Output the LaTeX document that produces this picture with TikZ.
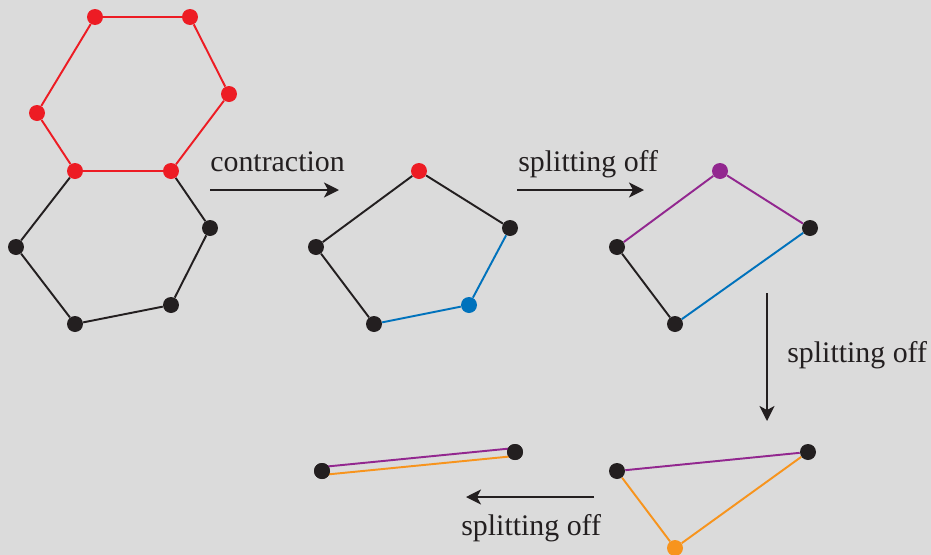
\documentclass[tikz,border=0pt]{standalone}
\usepackage{fontspec}
\setmainfont{Liberation Serif}
\usetikzlibrary{arrows.meta}
\definecolor{bgrey}{HTML}{DBDBDB}
\definecolor{vblack}{HTML}{231F20}
\definecolor{vred}{HTML}{ED1C24}
\definecolor{vblue}{HTML}{0072BC}
\definecolor{vpurple}{HTML}{92278F}
\definecolor{vorange}{HTML}{F7941D}
\tikzset{
  vtx/.style={circle, fill=vblack, inner sep=0pt, minimum size=0.32cm},
  edge/.style={line width=1.1pt, draw=vblack},
  move/.style={line width=1.1pt, draw=vblack, -{Stealth[length=0.3cm,width=0.3cm,inset=0.08cm]}},
  lbl/.style={anchor=base west, inner sep=0pt, font=\fontsize{17}{20}\selectfont, text=vblack}
}
\begin{document}
\begin{tikzpicture}[x=0.02cm,y=-0.02cm]
\fill[bgrey] (0,0) rectangle (931,555);
\useasboundingbox (0,0) rectangle (931,555);
% two hexagons
\node[vtx, fill=vred] (h1) at (95,17) {};
\node[vtx, fill=vred] (h2) at (190,17) {};
\node[vtx, fill=vred] (h3) at (229,94) {};
\node[vtx, fill=vred] (h4) at (37,113) {};
\node[vtx, fill=vred] (h5) at (75,171) {};
\node[vtx, fill=vred] (h6) at (171,171) {};
\node[vtx] (h7) at (16,247) {};
\node[vtx] (h8) at (210,228) {};
\node[vtx] (h9) at (171,305) {};
\node[vtx] (h10) at (75,324) {};
\draw[edge, draw=vred] (h1) -- (h2);
\draw[edge, draw=vred] (h2) -- (h3);
\draw[edge, draw=vred] (h3) -- (h6);
\draw[edge, draw=vred] (h6) -- (h5);
\draw[edge, draw=vred] (h5) -- (h4);
\draw[edge, draw=vred] (h4) -- (h1);
\draw[edge] (h5) -- (h7);
\draw[edge] (h7) -- (h10);
\draw[edge] (h10) -- (h9);
\draw[edge] (h9) -- (h8);
\draw[edge] (h8) -- (h6);
% pentagon
\node[vtx, fill=vred] (p1) at (419,171) {};
\node[vtx] (p2) at (316,247) {};
\node[vtx] (p3) at (510,228) {};
\node[vtx] (p4) at (374,324) {};
\node[vtx, fill=vblue] (p5) at (469,305) {};
\draw[edge] (p1) -- (p2);
\draw[edge] (p1) -- (p3);
\draw[edge] (p2) -- (p4);
\draw[edge, draw=vblue] (p4) -- (p5);
\draw[edge, draw=vblue] (p5) -- (p3);
% quadrilateral
\node[vtx, fill=vpurple] (q1) at (720,171) {};
\node[vtx] (q2) at (617,247) {};
\node[vtx] (q3) at (810,228) {};
\node[vtx] (q4) at (675,324) {};
\draw[edge, draw=vpurple] (q2) -- (q1);
\draw[edge, draw=vpurple] (q1) -- (q3);
\draw[edge] (q2) -- (q4);
\draw[edge, draw=vblue] (q4) -- (q3);
% triangle
\node[vtx] (t1) at (617,471) {};
\node[vtx] (t2) at (808,452) {};
\node[vtx, fill=vorange] (t3) at (675,548) {};
\draw[edge, draw=vpurple] (t1) -- (t2);
\draw[edge, draw=vorange] (t1) -- (t3);
\draw[edge, draw=vorange] (t3) -- (t2);
% two vertices, double edge
\node[vtx] (s1) at (322,471) {};
\node[vtx] (s2) at (515,452) {};
\draw[edge, draw=vpurple] ([yshift=0.08cm]s1.center) -- ([yshift=0.08cm]s2.center);
\draw[edge, draw=vorange] ([yshift=-0.08cm]s1.center) -- ([yshift=-0.08cm]s2.center);
\node[vtx] at (s1) {};
\node[vtx] at (s2) {};
% moves
\coordinate (c1) at (210,190);
\coordinate (c2) at (339,190);
\coordinate (c3) at (517,190);
\coordinate (c4) at (644,190);
\coordinate (c5) at (767,293);
\coordinate (c6) at (767,421);
\coordinate (c7) at (594,497);
\coordinate (c8) at (466,497);
\draw[move] (c1) -- (c2);
\draw[move] (c3) -- (c4);
\draw[move] (c5) -- (c6);
\draw[move] (c7) -- (c8);
\node[lbl] (l1) at (210,171) {contraction};
\node[lbl] (l2) at (518,171) {splitting off};
\node[lbl] (l3) at (787,362) {splitting off};
\node[lbl] (l4) at (461,535) {splitting off};
\end{tikzpicture}
\end{document}
